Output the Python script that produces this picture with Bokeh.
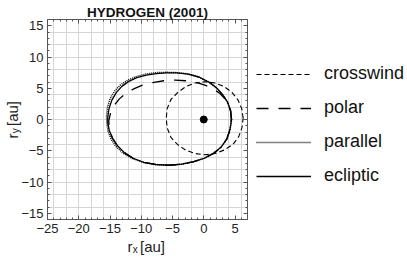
from bokeh.plotting import figure
from bokeh.models import Range1d, FixedTicker, LinearAxis, Label, Legend, LegendItem
from bokeh.embed import file_html
from bokeh.resources import INLINE
import math

# ---- data ----
x_lim = (-25, 7)
y_lim = (-16, 16)
x_ticks = [-25, -20, -15, -10, -5, 0, 5]
y_ticks = [-15, -10, -5, 0, 5, 10, 15]
x_minor = list(range(-25, 8))
y_minor = list(range(-16, 17))
x_grid = list(range(-24, 8, 2))
y_grid = list(range(-16, 17, 2))

crosswind_x = [6.3, 6.09, 5.48, 4.51, 3.25, 1.78, 0.2, -1.38, -2.85, -4.15, -5.25, -5.85, -6.0,
               -5.85, -5.25, -4.2, -2.9, -1.4, 0.2, 1.78, 3.25, 4.65, 5.6, 6.12, 6.3]
crosswind_y = [0.2, 1.71, 3.13, 4.34, 5.27, 5.85, 6.05, 5.85, 5.27, 4.34, 3.2, 1.75, 0.2,
               -1.35, -2.85, -4.0, -4.9, -5.45, -5.65, -5.45, -4.9, -4.0, -2.75, -1.3, 0.2]

polar_x = [4.4, 4.3, 3.95, 3.4, 2.6, 1.5, 0.2, -1.3, -2.9, -4.6, -6.4, -8.2, -9.9, -11.3, -12.5,
           -13.5, -14.3, -14.9, -15.2, -15.1, -14.6, -13.8, -12.7, -11.3, -9.6, -7.7, -5.6, -3.5,
           -1.6, 0.1, 1.6, 2.8, 3.7, 4.2, 4.4]
polar_y = [0.0, 1.3, 2.4, 3.3, 4.15, 4.9, 5.5, 5.95, 6.2, 6.3, 6.2, 5.9, 5.45, 4.85, 4.15,
           3.3, 2.3, 1.1, -0.2, -1.6, -3.0, -4.2, -5.3, -6.2, -6.85, -7.2, -7.32, -7.15,
           -6.75, -6.2, -5.4, -4.4, -3.1, -1.6, 0.0]

parallel_x = [4.45, 4.3, 3.8, 3.0, 2.0, 0.8, -0.8, -2.5, -4.3, -6.0, -7.6, -9.2, -10.75, -12.15,
              -13.35, -14.3, -15.0, -15.4, -15.55, -15.5, -15.3, -14.85, -14.05, -12.9, -11.4,
              -9.6, -7.7, -5.6, -3.5, -1.6, 0.1, 1.6, 2.8, 3.7, 4.2, 4.45]
parallel_y = [0.0, 1.4, 2.8, 4.0, 5.1, 6.0, 6.8, 7.3, 7.5, 7.55, 7.5, 7.3, 6.9, 6.3,
              5.5, 4.5, 3.3, 2.0, 0.5, -0.7, -1.9, -3.1, -4.3, -5.4, -6.25,
              -6.87, -7.2, -7.32, -7.15, -6.75, -6.2, -5.4, -4.4, -3.1, -1.6, 0.0]

ecliptic_x = [4.45, 4.3, 3.8, 3.0, 2.0, 0.8, -0.8, -2.5, -4.3, -6.0, -7.6, -9.2, -10.7, -12.0,
              -13.1, -14.0, -14.7, -15.15, -15.35, -15.35, -15.1, -14.6, -13.8, -12.7, -11.3,
              -9.6, -7.7, -5.6, -3.5, -1.6, 0.1, 1.6, 2.8, 3.7, 4.2, 4.45]
ecliptic_y = [0.0, 1.4, 2.8, 4.0, 5.1, 6.0, 6.8, 7.25, 7.45, 7.45, 7.35, 7.1, 6.7, 6.1,
              5.3, 4.3, 3.1, 1.8, 0.4, -0.6, -1.8, -3.0, -4.2, -5.3, -6.2,
              -6.85, -7.2, -7.32, -7.15, -6.75, -6.2, -5.4, -4.4, -3.1, -1.6, 0.0]

sun_x = [0.0]
sun_y = [0.0]

FONT = "Liberation Sans"
FRAME = "#555555"
TXT = "#222222"

# canvas geometry: the plotting box [-25,7]x[-16,16] is placed at 6.25 px per unit
W, H = 407, 258
PX = 6.25
BOX_LEFT, BOX_TOP = 47, 19
xr0 = x_lim[0] - BOX_LEFT / PX
yr1 = y_lim[1] + BOX_TOP / PX

p = figure(width=W, height=H, output_backend="svg", toolbar_location=None,
           x_range=Range1d(xr0, xr0 + W / PX), y_range=Range1d(yr1 - H / PX, yr1),
           min_border=0, x_axis_location=None, y_axis_location=None)
p.outline_line_color = None
p.background_fill_color = "white"
p.border_fill_color = "white"


def minus(v):
    return str(v).replace("-", "\u2212")


def make_axis(side, ticks, minor, loc, bounds, show_labels):
    ax = LinearAxis(fixed_location=loc, bounds=bounds,
                    ticker=FixedTicker(ticks=ticks, minor_ticks=minor))
    ax.axis_line_color = FRAME
    ax.major_tick_line_color = FRAME
    ax.minor_tick_line_color = FRAME
    ax.major_tick_in = 4
    ax.major_tick_out = 0
    ax.minor_tick_in = 2
    ax.minor_tick_out = 0
    ax.axis_label = None
    if show_labels:
        ax.major_label_overrides = {t: minus(t) for t in ticks}
        ax.major_label_text_font = FONT
        ax.major_label_text_font_size = "13px"
        ax.major_label_text_color = TXT
        ax.major_label_standoff = 4
    else:
        ax.major_label_text_font_size = "0px"
        ax.major_label_text_alpha = 0
        ax.major_label_standoff = 0
    p.add_layout(ax, side)


make_axis("below", x_ticks, x_minor, y_lim[0], x_lim, True)
make_axis("left", y_ticks, y_minor, x_lim[0], y_lim, True)
make_axis("above", x_ticks, x_minor, y_lim[1], x_lim, False)
make_axis("right", y_ticks, y_minor, x_lim[1], y_lim, False)

p.xgrid.ticker = FixedTicker(ticks=x_grid)
p.ygrid.ticker = FixedTicker(ticks=y_grid)
p.xgrid.cross_bounds = y_lim
p.ygrid.cross_bounds = x_lim
for g in (p.xgrid, p.ygrid):
    g.grid_line_color = "#d6d6d6"
    g.grid_line_width = 1

r_cw = p.line(crosswind_x, crosswind_y, line_color="black", line_width=1.1, line_dash="5 3")
r_po = p.line(polar_x, polar_y, line_color="black", line_width=1.3, line_dash="12 10")
r_pa = p.line(parallel_x, parallel_y, line_color="black", line_width=1.5, line_dash="1 1")
r_ec = p.line(ecliptic_x, ecliptic_y, line_color="black", line_width=1.3, line_join="round")
p.scatter(sun_x, sun_y, size=7, color="black")

legend = Legend(items=[LegendItem(label="crosswind", renderers=[r_cw]),
                       LegendItem(label="polar", renderers=[r_po]),
                       LegendItem(label="parallel", renderers=[r_pa]),
                       LegendItem(label="ecliptic", renderers=[r_ec])],
                location=(256, 72))
legend.padding = 0
legend.margin = 0
legend.spacing = 13
legend.label_height = 20
legend.glyph_height = 20
legend.glyph_width = 55
legend.label_standoff = 13
legend.label_text_font = FONT
legend.label_text_font_size = "18px"
legend.label_text_color = "#111111"
legend.border_line_color = None
legend.background_fill_alpha = 0
p.add_layout(legend)


def label(x, y, text, size, **kw):
    p.add_layout(Label(x=x, y=y, x_units="screen", y_units="screen", text=text,
                       text_font=FONT, text_font_size=size, text_baseline="alphabetic",
                       text_color=kw.pop("color", TXT), **kw))


# title (positions in canvas px, y measured up from the canvas bottom)
label(147, 246, "HYDROGEN (2001)", "13.5px", text_font_style="bold", text_align="center", color="#111111")

# x axis label r_x [au]
label(127, 12, "r", "15px")
label(132.2, 9, "x", "10px")
label(139.5, 12, "[au]", "15px")

# y axis label r_y [au], rotated
label(12, 120, "r", "15px", angle=math.pi / 2)
label(15, 125.2, "y", "10px", angle=math.pi / 2)
label(12, 132.5, "[au]", "15px", angle=math.pi / 2)

open("out.html", "w").write(file_html(p, INLINE))
